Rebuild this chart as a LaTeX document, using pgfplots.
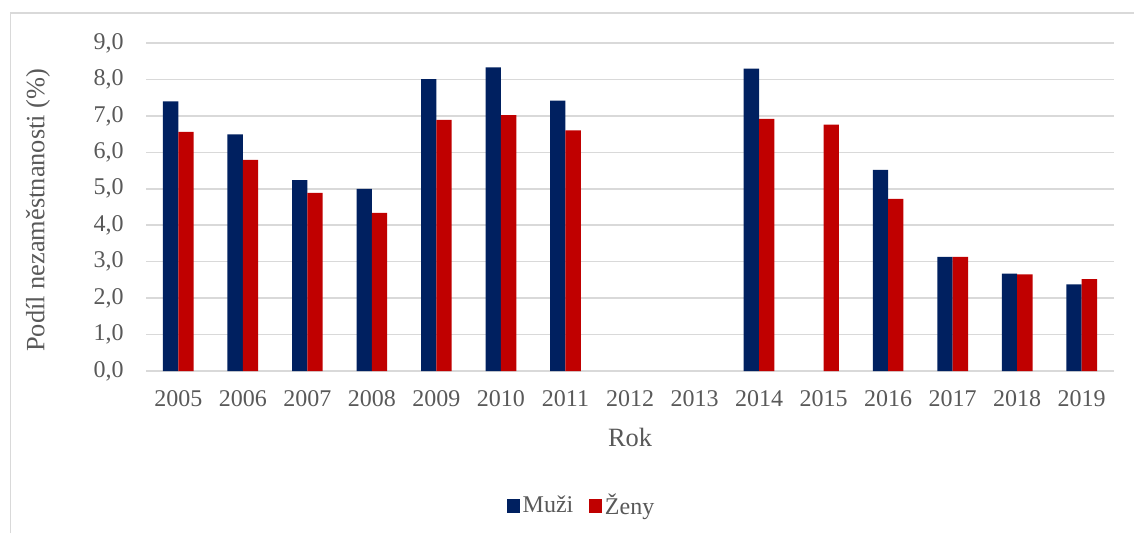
\documentclass[border=0pt]{standalone}
\usepackage{pgfplots}
\pgfplotsset{compat=1.18}
\usepackage{fontspec}
\setmainfont{Liberation Serif}
\definecolor{navy}{HTML}{002060}
\definecolor{dred}{HTML}{C00000}
\definecolor{gridc}{HTML}{D9D9D9}
\definecolor{txt}{HTML}{595959}
\begin{document}
\fontsize{18}{21.6}\selectfont
\begin{tikzpicture}
\useasboundingbox (0,0) rectangle (850.5pt,399.75pt);
\draw[gridc, line width=1.1pt] (7.9pt,0) -- (7.9pt,390pt) -- (850.5pt,390pt);
\begin{axis}[
  at={(109.5pt,121.5pt)}, anchor=south west,
  scale only axis, width=726pt, height=246pt,
  ybar=0pt, bar width=11.5pt,
  xmin=-0.5, xmax=14.5, ymin=0, ymax=9,
  xtick={0,...,14},
  xticklabels={2005,2006,2007,2008,2009,2010,2011,2012,2013,2014,2015,2016,2017,2018,2019},
  ytick={0,1,...,9},
  ymajorgrids, major grid style={gridc, line width=1.1pt},
  axis line style={draw=none},
  major tick length=0pt,
  tick label style={font=\fontsize{18}{21.6}\selectfont, text=txt},
  yticklabel style={inner sep=0pt, xshift=-16.5pt},
  xticklabel style={inner sep=0pt, anchor=north, yshift=-14.8pt},
  /pgf/number format/.cd, fixed, fixed zerofill, precision=1, use comma, assume math mode=true,
  /pgfplots/.cd,
  xlabel={Rok}, ylabel={Podíl nezaměstnanosti (\%)},
  label style={font=\fontsize{19.8}{23.8}\selectfont, text=txt},
  xlabel style={at={(axis description cs:0.5,-0.2012)}, anchor=center},
  ylabel style={at={(axis description cs:-0.1116,0.49)}, anchor=center, rotate=0},
  legend style={at={(axis description cs:0.4504,-0.4116)}, anchor=center, draw=none,
    font=\fontsize{18}{21.6}\selectfont, text=txt, legend columns=2,
    /tikz/every even column/.append style={column sep=10pt}},
  legend image code/.code={\fill[#1] (-3pt,-4.9pt) rectangle (6.75pt,4.9pt);},
]
\addplot[fill=navy, draw=none] coordinates {
(0,7.40) (1,6.49) (2,5.24) (3,5.00) (4,8.01) (5,8.33) (6,7.42)
(9,8.30) (11,5.52) (12,3.13) (13,2.67) (14,2.38)};
\addplot[fill=dred, draw=none] coordinates {
(0,6.56) (1,5.79) (2,4.89) (3,4.34) (4,6.89) (5,7.02) (6,6.60)
(9,6.92) (10,6.76) (11,4.72) (12,3.13) (13,2.65) (14,2.52)};
\legend{Muži,Ženy}
\end{axis}
\end{tikzpicture}
\end{document}
